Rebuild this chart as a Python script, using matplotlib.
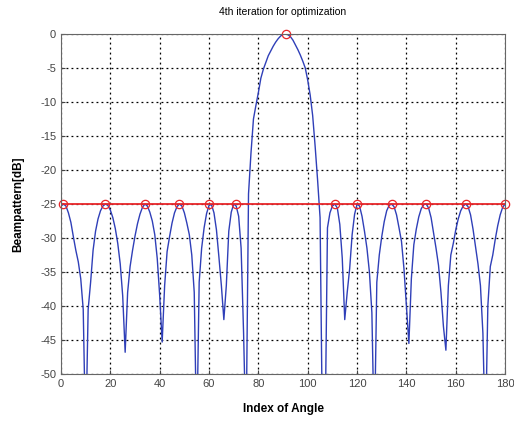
import numpy as np
import matplotlib.pyplot as plt

# beampattern (dB), one value per angle index 0..180
angle_idx = np.arange(0, 181)
beam_db = [
    -25.3, -25.0, -25.3, -26.3, -27.7, -29.8, -31.8, -33.5, -36.0, -40.5,   # 0-9
    -60.0, -40.5, -36.5, -31.8, -29.0, -27.2, -26.0, -25.3, -25.0, -25.2,   # 10-19
    -25.9, -27.0, -28.6, -30.8, -33.8, -38.5, -46.8, -38.0, -34.2, -31.8,   # 20-29
    -29.7, -27.9, -26.5, -25.5, -25.0, -25.3, -26.2, -27.5, -29.5, -33.0,   # 30-39
    -38.5, -45.3, -37.0, -32.0, -29.8, -27.8, -26.3, -25.4, -25.0, -25.3,   # 40-49
    -26.3, -27.8, -29.5, -32.5, -38.0, -60.0, -36.5, -31.5, -28.5, -26.4,   # 50-59
    -25.2, -25.1, -26.3, -28.8, -32.8, -37.0, -42.0, -37.0, -29.0, -26.2,   # 60-69
    -25.0, -25.3, -26.8, -31.5, -44.0, -60.0, -23.5, -17.5, -12.5, -10.5,   # 70-79
    -8.6, -6.5, -5.2, -4.2, -3.2, -2.5, -1.8, -1.2, -0.7, -0.3,             # 80-89
    -0.05, 0.0, -0.1, -0.4, -0.9, -1.6, -2.3, -3.1, -4.0, -5.0,             # 90-99
    -6.8, -9.0, -12.0, -16.5, -21.5, -27.0, -60.0, -60.0, -28.5, -26.3,     # 100-109
    -25.3, -25.0, -25.6, -28.0, -33.0, -42.0, -38.0, -34.5, -29.5, -26.5,   # 110-119
    -25.0, -25.3, -26.8, -29.0, -31.5, -35.0, -41.0, -60.0, -36.5, -32.5,   # 120-129
    -29.8, -27.6, -26.0, -25.2, -25.0, -25.4, -26.6, -28.5, -30.5, -34.5,   # 130-139
    -40.0, -45.5, -36.0, -31.0, -28.7, -26.9, -25.7, -25.1, -25.0, -25.6,   # 140-149
    -27.0, -29.2, -31.5, -34.0, -38.0, -43.0, -46.5, -37.0, -32.5, -30.8,   # 150-159
    -28.8, -27.2, -26.0, -25.3, -25.0, -25.4, -26.6, -28.7, -31.2, -33.8,   # 160-169
    -37.0, -44.0, -60.0, -40.0, -34.2, -32.5, -30.2, -28.2, -26.6, -25.5,   # 170-179
    -25.0,                                                                  # 180
]

# sidelobe peaks marked with red circles
peak_idx = [1, 18, 34, 48, 60, 71, 91, 111, 120, 134, 148, 164, 180]
peak_db = [-25, -25, -25, -25, -25, -25, 0, -25, -25, -25, -25, -25, -25]
level_db = -25

plt.rcParams['font.family'] = ['Liberation Sans', 'DejaVu Sans']
plt.rcParams['axes.unicode_minus'] = False

fig = plt.figure(figsize=(5.14, 4.25), dpi=100)
ax = fig.add_axes([0.1187, 0.12, 0.864, 0.80])

ax.plot(angle_idx, beam_db, color='#2f3fb8', lw=1.0)
ax.axhline(level_db, color='#e8262a', lw=1.3)
ax.plot(peak_idx, peak_db, 'o', mfc='none', mec='#e8262a', ms=6, mew=0.9,
        clip_on=False)

ax.set_xlim(0, 180)
ax.set_ylim(-50, 0)
ax.set_xticks(range(0, 181, 20))
ax.set_yticks(range(-50, 1, 5))
ax.grid(True, color='black', ls=(0, (1.5, 2.5)), lw=0.9)
ax.tick_params(direction='in', labelsize=8, colors='#444444', length=3)
for s in ax.spines.values():
    s.set_color('#666666')

ax.set_title('4th iteration for optimization', fontsize=7.5, pad=14)
ax.set_xlabel('Index of Angle', fontsize=8.5, fontweight='bold', labelpad=10)
ax.set_ylabel('Beampattern[dB]', fontsize=8.5, fontweight='bold', labelpad=11)

fig.savefig('out.png', dpi=100)
